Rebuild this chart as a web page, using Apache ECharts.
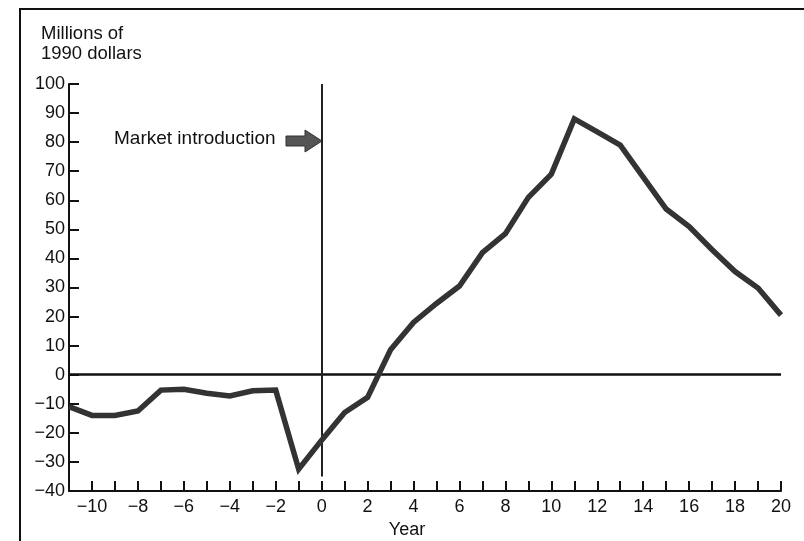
<!DOCTYPE html>
<html>
<head>
<meta charset="utf-8">
<script src="https://cdn.jsdelivr.net/npm/echarts@6/dist/echarts.min.js"></script>
<style>
  html, body { margin: 0; padding: 0; background: #fff; overflow: hidden; }
  #chart { width: 804px; height: 541px; }
</style>
</head>
<body>
<div id="chart"></div>
<script>
// data
const years = [-11, -10, -9, -8, -7, -6, -5, -4, -3, -2, -1, 0, 1, 2, 3, 4, 5, 6, 7, 8, 9, 10,
  11, 12, 13, 14, 15, 16, 17, 18, 19, 20];
const values = [-11, -14, -14, -12.5, -5.3, -5, -6.4, -7.3, -5.5, -5.3, -32.5, -22.5, -13, -7.8,
  8.6, 18, 24.5, 30.5, 42, 48.5, 61, 69, 88, 83.5, 79, 68, 57, 51, 43, 35.5, 29.8, 20.5];
const yTicks = [-40, -30, -20, -10, 0, 10, 20, 30, 40, 50, 60, 70, 80, 90, 100];
const introYear = 0;
const introLineBottom = -35;
const yTitle = 'Millions of\n1990 dollars';
const xTitle = 'Year';
const annotation = 'Market introduction';

const font = '"Liberation Sans", Arial, sans-serif';
const minus = v => String(v).replace('-', '\u2212');

const chart = echarts.init(document.getElementById('chart'));

const option = {
  animation: false,
  textStyle: { fontFamily: font },
  title: {
    text: yTitle,
    left: 36,
    top: 19,
    textStyle: { fontFamily: font, fontSize: 18.5, fontWeight: 'normal', color: '#111', lineHeight: 20 }
  },
  grid: { left: 69, right: 23, top: 84, bottom: 50, outerBoundsMode: 'none', containLabel: false },
  xAxis: {
    type: 'value',
    min: -11,
    max: 20,
    interval: 1,
    name: xTitle,
    nameLocation: 'middle',
    nameGap: 29,
    nameTextStyle: { fontFamily: font, fontSize: 18, color: '#111', padding: [0, 36, 0, 0] },
    axisLine: { onZero: false, lineStyle: { color: '#111', width: 2 } },
    axisTick: { inside: true, length: 10, lineStyle: { color: '#111', width: 2 } },
    axisLabel: {
      fontFamily: font, fontSize: 18, color: '#111', margin: 7,
      formatter: v => (v % 2 === 0 ? minus(v) : '')
    },
    splitLine: { show: false }
  },
  yAxis: {
    type: 'value',
    min: yTicks[0],
    max: yTicks[yTicks.length - 1],
    interval: 10,
    axisLine: { onZero: false, lineStyle: { color: '#111', width: 2 } },
    axisTick: { inside: true, length: 10, lineStyle: { color: '#111', width: 2 } },
    axisLabel: { fontFamily: font, fontSize: 18, color: '#111', margin: 4, formatter: v => minus(v) },
    splitLine: { show: false }
  },
  series: [
    {
      type: 'line',
      data: years.map((y, i) => [y, values[i]]),
      symbol: 'none',
      z: 5,
      lineStyle: { color: '#333', width: 5.5, join: 'miter' },
      markLine: {
        silent: true,
        symbol: 'none',
        label: { show: false },
        lineStyle: { color: '#222', width: 2, type: 'solid' },
        data: [
          [{ coord: [years[0], 0], lineStyle: { width: 2.5, color: '#111' } },
           { coord: [years[years.length - 1], 0] }],
          [{ coord: [introYear, introLineBottom] }, { coord: [introYear, yTicks[yTicks.length - 1]] }]
        ]
      }
    }
  ],
  graphic: [
    { type: 'line', shape: { x1: 20, y1: 8, x2: 20, y2: 541 }, style: { stroke: '#111', lineWidth: 2 } },
    { type: 'line', shape: { x1: 20, y1: 9, x2: 804, y2: 9 }, style: { stroke: '#111', lineWidth: 2 } },
    {
      type: 'text', left: 114, top: 129,
      style: { text: annotation, font: '19px ' + font, fill: '#111' }
    },
    {
      type: 'polygon',
      shape: { points: [[286, 136], [305, 136], [305, 130], [322, 141], [305, 152], [305, 146], [286, 146]] },
      style: { fill: '#555', stroke: '#333', lineWidth: 1 }
    }
  ]
};

chart.setOption(option);
</script>
</body>
</html>
